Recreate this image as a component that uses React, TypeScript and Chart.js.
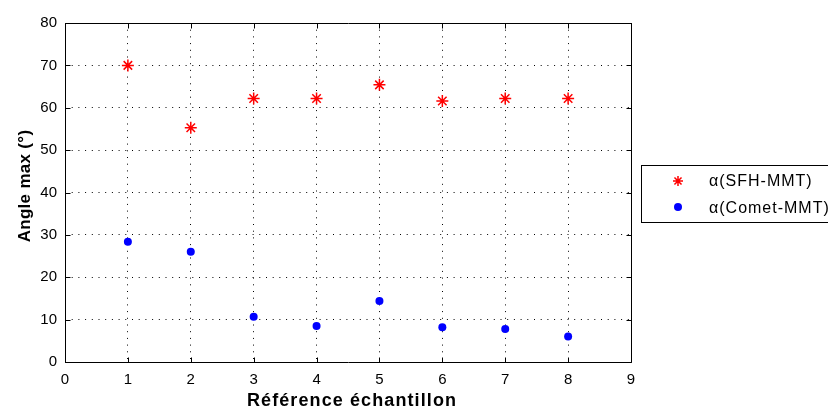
import React, { useEffect, useRef } from "react";
import { Chart, registerables } from "chart.js";

Chart.register(...registerables);

const samples = [1, 2, 3, 4, 5, 6, 7, 8];
const sfhValues = [70, 55.3, 62.2, 62.2, 65.4, 61.6, 62.2, 62.2];
const cometValues = [28.4, 26.0, 10.7, 8.5, 14.4, 8.2, 7.8, 6.0];
const seriesLabels = ["α(SFH-MMT)", "α(Comet-MMT)"];
const xTickValues = [0, 1, 2, 3, 4, 5, 6, 7, 8, 9];
const yTickValues = [0, 10, 20, 30, 40, 50, 60, 70, 80];
const xTitle = "Référence échantillon";
const yTitle = "Angle max (°)";

const FONT = "'Liberation Sans', Arial, Helvetica, sans-serif";

function drawStar(ctx: CanvasRenderingContext2D, cx: number, cy: number, r: number) {
  ctx.beginPath();
  ctx.moveTo(cx - r, cy);
  ctx.lineTo(cx + r, cy);
  ctx.moveTo(cx, cy - r);
  ctx.lineTo(cx, cy + r);
  const d = r * Math.SQRT1_2;
  ctx.moveTo(cx - d, cy - d);
  ctx.lineTo(cx + d, cy + d);
  ctx.moveTo(cx - d, cy + d);
  ctx.lineTo(cx + d, cy - d);
  ctx.stroke();
}

const framePlugin = {
  id: "matlabFrame",
  afterDraw(chart: any) {
    const { ctx, chartArea, scales } = chart;
    const { left, right, top, bottom } = chartArea;
    const xs = scales.x;
    const ys = scales.y;
    ctx.save();
    ctx.setLineDash([]);
    ctx.strokeStyle = "#000";
    ctx.lineWidth = 1;
    const L = Math.round(left) + 0.5;
    const R = Math.round(right) + 0.5;
    const T = Math.round(top) + 0.5;
    const B = Math.round(bottom) + 0.5;
    ctx.beginPath();
    ctx.rect(L, T, R - L, B - T);
    for (const v of xTickValues) {
      const px = Math.round(xs.getPixelForValue(v)) + 0.5;
      ctx.moveTo(px, B);
      ctx.lineTo(px, B - 5);
      ctx.moveTo(px, T);
      ctx.lineTo(px, T + 5);
    }
    for (const v of yTickValues) {
      const py = Math.round(ys.getPixelForValue(v)) + 0.5;
      ctx.moveTo(L, py);
      ctx.lineTo(L + 5, py);
      ctx.moveTo(R, py);
      ctx.lineTo(R - 5, py);
    }
    ctx.stroke();

    // axis titles
    ctx.fillStyle = "#000";
    ctx.font = `bold 18px ${FONT}`;
    (ctx as any).letterSpacing = "1.1px";
    ctx.textAlign = "center";
    ctx.textBaseline = "alphabetic";
    ctx.fillText(xTitle, 352, 406);
    ctx.save();
    ctx.font = `bold 17px ${FONT}`;
    (ctx as any).letterSpacing = "0.3px";
    ctx.translate(30, 186);
    ctx.rotate(-Math.PI / 2);
    ctx.fillText(yTitle, 0, 0);
    ctx.restore();

    // legend box
    (ctx as any).letterSpacing = "0px";
    const bx = 641.5;
    const by = 165.5;
    ctx.fillStyle = "#fff";
    ctx.fillRect(bx, by, 220, 57);
    ctx.strokeRect(bx, by, 220, 57);
    ctx.font = `16px ${FONT}`;
    (ctx as any).letterSpacing = "1px";
    ctx.textBaseline = "middle";
    ctx.textAlign = "left";
    const rows = [181, 208];
    ctx.strokeStyle = "#ff0000";
    ctx.lineWidth = 1.5;
    drawStar(ctx, 678, rows[0], 5);
    ctx.fillStyle = "#000";
    ctx.fillText(seriesLabels[0], 709, rows[0] + 1);
    ctx.fillStyle = "#0000ff";
    ctx.beginPath();
    ctx.arc(678, rows[1] - 1, 4, 0, Math.PI * 2);
    ctx.fill();
    ctx.fillStyle = "#000";
    ctx.fillText(seriesLabels[1], 709, rows[1] + 1);
    ctx.restore();
  },
};

export default function App() {
  const ref = useRef<HTMLCanvasElement | null>(null);
  useEffect(() => {
    document.body.style.margin = "0";
    const canvas = ref.current;
    if (!canvas) return;
    const chart = new Chart(canvas, {
      type: "scatter",
      data: {
        datasets: [
          {
            label: seriesLabels[0],
            data: samples.map((s, i) => ({ x: s, y: sfhValues[i] })),
            pointStyle: "star",
            pointRadius: 6,
            pointBorderWidth: 1.5,
            borderColor: "#ff0000",
            backgroundColor: "#ff0000",
          },
          {
            label: seriesLabels[1],
            data: samples.map((s, i) => ({ x: s, y: cometValues[i] })),
            pointStyle: "circle",
            pointRadius: 4,
            pointBorderWidth: 0,
            borderColor: "#0000ff",
            backgroundColor: "#0000ff",
          },
        ],
      },
      options: {
        animation: false,
        responsive: false,
        devicePixelRatio: 1,
        layout: { padding: { top: 23, right: 197, left: 0, bottom: 0 } },
        plugins: { legend: { display: false }, tooltip: { enabled: false } },
        scales: {
          x: {
            type: "linear",
            min: 0,
            max: 9,
            afterFit: (s: any) => {
              s.height = 46;
            },
            ticks: {
              stepSize: 1,
              padding: 9,
              color: "#000",
              font: { family: FONT, size: 15 },
            },
            grid: { color: "#000", lineWidth: 1, drawTicks: false },
            border: { display: false, dash: [1, 5.7] },
            title: { display: false },
          },
          y: {
            type: "linear",
            min: 0,
            max: 80,
            afterFit: (s: any) => {
              s.width = 65;
            },
            ticks: {
              stepSize: 10,
              padding: 8,
              color: "#000",
              font: { family: FONT, size: 15 },
            },
            grid: { color: "#000", lineWidth: 1, drawTicks: false },
            border: { display: false, dash: [1, 5.7] },
            title: { display: false },
          },
        },
      },
      plugins: [framePlugin],
    } as any);
    return () => chart.destroy();
  }, []);
  return (
    <div style={{ width: 828, height: 408 }}>
      <canvas ref={ref} width={828} height={408} style={{ display: "block" }} />
    </div>
  );
}
